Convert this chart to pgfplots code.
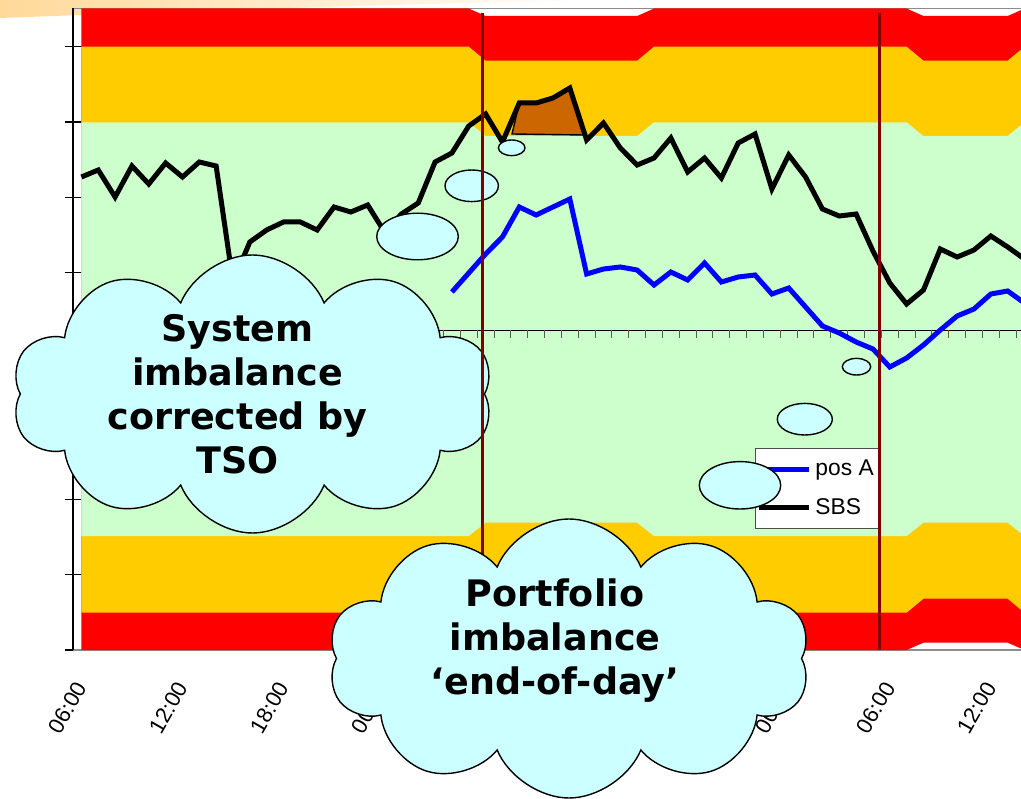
\documentclass[border=0pt]{standalone}
\usepackage{pgfplots}
\pgfplotsset{compat=1.18}
\usepackage{pgfplotstable}
\usepackage{fontspec}
\setmainfont{Liberation Sans}
\newfontfamily\cloudfont{DejaVu Sans}
\usetikzlibrary{shapes.symbols}
\definecolor{bandred}{HTML}{FF0000}
\definecolor{bandyellow}{HTML}{FFCC00}
\definecolor{bandgreen}{HTML}{CCFFCC}
\definecolor{peak}{HTML}{CC6600}
\definecolor{bubble}{HTML}{CCFFFF}
\definecolor{dayline}{HTML}{800000}
\definecolor{swoosh}{HTML}{FFD99A}
\newcommand{\cloudtext}{\cloudfont\bfseries\fontsize{18.25}{22}\selectfont}
\newcommand{\tickfont}{\fontsize{11}{13}\selectfont}
\newcommand{\legfont}{\fontsize{11.4}{13.5}\selectfont}

\pgfplotstableread{
h sbs
0 153
1 160
2 133
3 164
4 146
5 167
6 153
7 168
8 164
9 48
10 88
11 100
12 108
13 108
14 100
15 123
16 118
17 125
18 98
19 116
20 127
21 168
22 177
23 204
24 216
25 188
26 227
27 227
28 232
29 242
30 190
31 207
32 182
33 165
34 172
35 192
36 158
37 172
38 152
39 187
40 196
41 141
42 175
43 153
44 121
45 114
46 116
47 79
48 47
49 26
50 40
51 81
52 73
53 80
54 94
55 83
56 71
}\sbsdata

\pgfplotstableread{
h posA
22 38
23 57
24 76
25 93
26 123
27 115
28 123
29 131
30 56
31 61
32 63
33 60
34 45
35 58
36 50
37 67
38 48
39 53
40 55
41 36
42 42
43 23
44 4
45 -3
46 -12
47 -19
48 -37
49 -28
50 -15
51 0
52 14
53 21
54 36
55 39
56 27
}\posdata

\begin{document}
\begin{tikzpicture}
\useasboundingbox (0pt,0pt) rectangle (510.5pt,399pt);
\clip (0pt,0pt) rectangle (510.5pt,399pt);
\shade[left color=swoosh, right color=white] (0pt,399pt) -- (0pt,390pt) .. controls (80pt,393pt) and (180pt,396.5pt) .. (300pt,399pt) -- cycle;

\begin{axis}[
  at={(36.5pt,74pt)}, anchor=south west,
  scale only axis, width=474.9pt, height=320.75pt,
  xmin=-0.5, xmax=55.9, ymin=-320, ymax=321.5,
  separate axis lines,
  x axis line style={draw=black!45, line width=0.8pt},
  y axis line style={draw=black, line width=0.8pt},
  tick pos=left,
  xtick={0,6,...,54},
  xticklabels={06:00,12:00,18:00,00:00,06:00,12:00,18:00,00:00,06:00,12:00},
  xtick style={draw=none},
  xticklabel style={rotate=60, anchor=east, inner sep=0pt, font=\tickfont},
  xticklabel shift=12.5pt,
  ytick={-320,-244.5,-169.1,-93.7,-18.3,57.1,132.5,207.9,283.3},
  yticklabels={},
  ytick style={black, line width=0.6pt},
  tick align=center,
  major tick length=8.5pt,
  legend style={at={(axis description cs:0.7183,0.3149)}, anchor=north west,
    draw=black!70, line width=0.6pt, fill=white, font=\legfont,
    inner xsep=0.3pt, inner ysep=3.7pt, row sep=5.9pt,
    nodes={inner sep=2pt, font=\legfont}, cells={anchor=west}},
  legend image code/.code={\draw[#1] (0pt,0pt) -- (25pt,0pt);},
]
% bands
\addplot[fill=bandred, draw=none, forget plot] coordinates {
 (0,321.5)(23,321.5)(24,314)(33,314)(34,321.5)(49,321.5)(50,314)(55,314)(56,321.5)
 (56,-320)(55,-312.7)(50,-312.7)(49,-320)(34,-320)(33,-312.7)(24,-312.7)(23,-320)(0,-320)};
\addplot[fill=bandyellow, draw=none, forget plot] coordinates {
 (0,283.3)(23,283.3)(24,269.3)(33,269.3)(34,283.3)(49,283.3)(50,269.3)(55,269.3)(56,283.3)
 (56,-282.7)(55,-268.7)(50,-268.7)(49,-282.7)(34,-282.7)(33,-268.7)(24,-268.7)(23,-282.7)(0,-282.7)};
\addplot[fill=bandgreen, draw=none, forget plot] coordinates {
 (0,207.7)(23,207.7)(24,194)(33,194)(34,207.7)(49,207.7)(50,194)(55,194)(56,207.7)
 (56,-206)(55,-192.7)(50,-192.7)(49,-206)(34,-206)(33,-192.7)(24,-192.7)(23,-206)(0,-206)};
% zero line with hourly ticks
\addplot[black, line width=0.5pt, forget plot] coordinates {(-0.5,0) (56,0)};
\pgfplotsinvokeforeach{-0.5,0.5,...,55.5}{\draw[black!65, line width=0.5pt] (axis cs:#1,0) -- ++(0pt,-4pt);}
% excess area
\addplot[fill=peak, draw=black, line width=0.7pt, forget plot] coordinates {
 (25.57,196) (26,227) (27,227) (28,232) (29,242) (29.84,195)} -- cycle;
% series
\addplot[blue, line width=2.5pt] table[x=h, y=posA] {\posdata};
\addlegendentry{pos A}
\addplot[black, line width=2.5pt] table[x=h, y=sbs] {\sbsdata};
\addlegendentry{SBS}
\end{axis}

% cloud 1 with thought bubbles
\draw[fill=bubble, line width=0.7pt] (208.75pt,280.75pt) ellipse [x radius=20.4pt, y radius=11.65pt];
\draw[fill=bubble, line width=0.7pt] (235.85pt,306.1pt) ellipse [x radius=13.35pt, y radius=7.9pt];
\draw[fill=bubble, line width=0.7pt] (255.85pt,325.1pt) ellipse [x radius=6.65pt, y radius=3.9pt];
\node[cloud, cloud puffs=10, cloud puff arc=135, cloud ignores aspect, draw=black, line width=0.7pt,
  fill=bubble, minimum width=240.5pt, minimum height=139pt, inner sep=0pt] at (126.2pt,202pt) {};
\node[align=center, font=\cloudtext, inner sep=0pt] at (118.75pt,201.75pt) {System\\imbalance\\corrected by\\TSO};

% day separators
\begin{axis}[
  at={(36.5pt,74pt)}, anchor=south west,
  scale only axis, width=474.9pt, height=320.75pt,
  xmin=-0.5, xmax=55.9, ymin=-320, ymax=321.5, hide axis]
\addplot[dayline, line width=1.5pt] coordinates {(23.8,317) (23.8,-320)};
\addplot[dayline, line width=1.5pt] coordinates {(47.4,317) (47.4,-320)};
\end{axis}

% cloud 2 with thought bubbles
\draw[fill=bubble, line width=0.7pt] (370pt,156.35pt) ellipse [x radius=20.35pt, y radius=11.85pt];
\draw[fill=bubble, line width=0.7pt] (402.4pt,189.4pt) ellipse [x radius=13.75pt, y radius=7.9pt];
\draw[fill=bubble, line width=0.7pt] (428.25pt,215.65pt) ellipse [x radius=7.1pt, y radius=4.15pt];
\node[cloud, cloud puffs=10, cloud puff arc=135, cloud ignores aspect, draw=black, line width=0.7pt,
  fill=bubble, minimum width=241pt, minimum height=139.5pt, inner sep=0pt] at (284.5pt,69.75pt) {};
\node[align=center, font=\cloudtext, inner sep=0pt] at (277.5pt,78.75pt) {Portfolio\\imbalance\\‘end-of-day’};
\end{tikzpicture}
\end{document}
